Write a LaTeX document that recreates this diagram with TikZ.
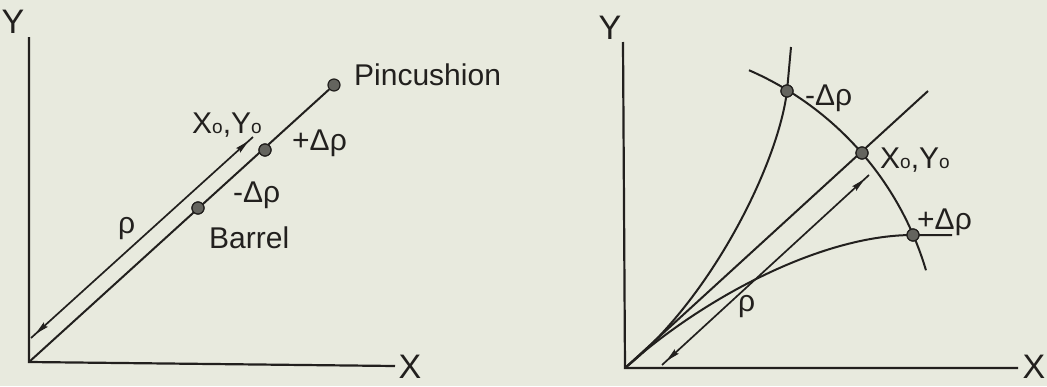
\documentclass[tikz,border=0pt]{standalone}
\usepackage{fontspec}
\setmainfont{Liberation Sans}
\usetikzlibrary{arrows.meta,decorations.markings}
\definecolor{paper}{RGB}{232,234,222}
\definecolor{ink}{RGB}{34,32,30}
\definecolor{dotfill}{RGB}{100,100,94}
\newcommand\smallo{{\fontsize{19}{19}\selectfont o}}
\tikzset{
  lab/.style={inner sep=0pt, anchor=base west, text=ink, font=\fontsize{30}{36}\selectfont},
  axlab/.style={inner sep=0pt, text=ink, font=\fontsize{34}{40}\selectfont},
  pdot/.style={circle, fill=dotfill, draw=ink, line width=1.2pt, minimum size=12pt, inner sep=0pt},
  axisline/.style={line width=2.2pt},
  curve/.style={line width=2pt},
  dimline/.style={line width=1.7pt, postaction={decorate},
    decoration={markings,
      mark=at position 6pt with {\arrowreversed[line width=1pt]{Stealth[length=14pt,width=6pt,inset=2pt]}},
      mark=at position -6pt with {\arrow[line width=1pt]{Stealth[length=14pt,width=6pt,inset=2pt]}}}}
}
\begin{document}
\begin{tikzpicture}[x=1pt,y=1pt,color=ink]
\fill[paper] (0,0) rectangle (1047,-386);
\useasboundingbox (0,0) rectangle (1047,-386);

% ---------------- left panel ----------------
\coordinate (O1) at (29,-362);
\coordinate (Y1) at (29,-37);
\coordinate (X1) at (395,-366);
\coordinate (R1a) at (31,-338);
\coordinate (R1b) at (253,-137);
\node[pdot] (pin) at (334,-85) {};
\node[pdot] (pplus) at (265,-150) {};
\node[pdot] (pminus) at (198,-208) {};

\draw[axisline] (Y1) -- (O1) -- (X1);
\draw[curve] (O1) -- (pin);
\draw[dimline] (R1a) -- (R1b);
\node[pdot] at (pplus) {};
\node[pdot] at (pminus) {};

\node[axlab] (ylab1) at (13,-22) {Y};
\node[axlab] (xlab1) at (410,-367) {X};
\node[lab] (tpin) at (354,-85) {Pincushion};
\node[lab] (txy1) at (192,-133) {X\smallo,Y\smallo};
\node[lab] (tp1) at (292,-150) {+Δρ};
\node[lab] (tm1) at (233,-202) {-Δρ};
\node[lab] (tbar) at (209,-248) {Barrel};
\node[lab] (trho1) at (118,-233) {ρ};

% ---------------- right panel ----------------
\coordinate (O2) at (625,-368);
\coordinate (Y2) at (623,-42);
\coordinate (X2) at (1018,-368);
\coordinate (L2) at (928,-91);
\coordinate (T2) at (791,-47);
\coordinate (R2a) at (662,-365);
\coordinate (R2b) at (869,-175);
\coordinate (Ctr) at (623,-360);
\coordinate (H2) at (952,-235);
\node[pdot] (M2) at (787,-91) {};
\node[pdot] (C2) at (862,-153) {};
\node[pdot] (P2) at (913,-235) {};

\draw[axisline] (Y2) -- (O2) -- (X2);
\draw[curve] (O2) -- (L2);
\draw[curve] ([shift={(66.5:316)}]Ctr) arc[start angle=66.5, end angle=16.5, radius=316];
\draw[curve] (O2) .. controls (710,-300) and (778,-165) .. (M2.center) -- (T2);
\draw[curve] (O2) .. controls (700,-300) and (820,-235) .. (P2.center) -- (H2);
\draw[dimline] (R2a) -- (R2b);
\node[pdot] at (M2) {};
\node[pdot] at (C2) {};
\node[pdot] at (P2) {};

\node[axlab] (ylab2) at (610,-28) {Y};
\node[axlab] (xlab2) at (1034,-367) {X};
\node[lab] (tm2) at (805,-105) {-Δρ};
\node[lab] (txy2) at (880,-168) {X\smallo,Y\smallo};
\node[lab] (tp2) at (917,-229) {+Δρ};
\node[lab] (trho2) at (738,-311) {ρ};
\end{tikzpicture}
\end{document}
